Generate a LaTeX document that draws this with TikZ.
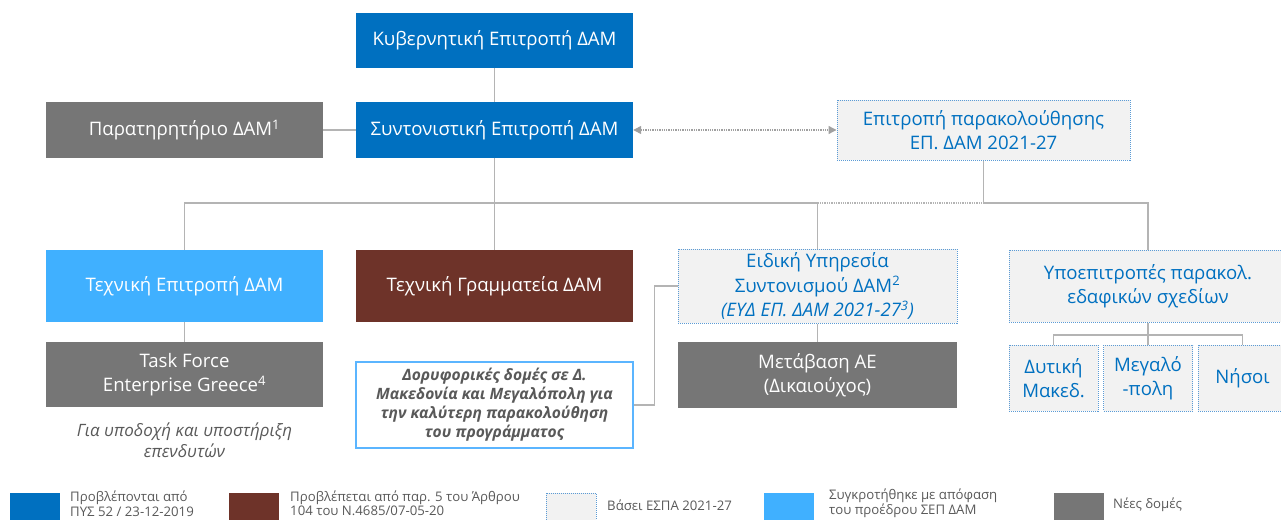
\documentclass[tikz,border=0pt]{standalone}
\usepackage{fontspec}
\setmainfont{Open Sans}
\usetikzlibrary{arrows.meta}
\definecolor{dblue}{RGB}{0,112,192}
\definecolor{lblue}{RGB}{64,176,255}
\definecolor{brown}{RGB}{110,51,41}
\definecolor{ngray}{RGB}{118,118,118}
\definecolor{lgray}{RGB}{242,242,242}
\definecolor{dotblue}{RGB}{91,155,213}
\definecolor{cgray}{RGB}{180,180,180}
\definecolor{agray}{RGB}{160,160,160}
\definecolor{tgray}{RGB}{89,89,89}
\definecolor{dborder}{RGB}{91,181,255}
\tikzset{
  box/.style={rectangle, inner sep=2pt, align=center, font=\fontsize{18.6}{24.5}\selectfont},
  solidbox/.style={box, text=white, draw=none},
  dotbox/.style={box, fill=lgray, draw=dotblue, densely dotted, line width=1pt, text=dblue},
  conn/.style={draw=cgray, line width=1.3pt},
  conndot/.style={draw=cgray, line width=1.3pt, densely dotted},
  biarrow/.style={draw=agray, line width=1.3pt, densely dotted, {Triangle[length=8pt,width=8pt]}-{Triangle[length=8pt,width=8pt]}},
  legsq/.style={rectangle, inner sep=0pt, minimum width=50pt, minimum height=32pt, draw=none},
  legtxt/.style={anchor=west, align=left, text=tgray, inner sep=0pt, font=\fontsize{13.2}{14.5}\selectfont},
}
\begin{document}
\begin{tikzpicture}[x=1pt,y=-1pt]
\useasboundingbox (0,0) rectangle (1281,519);
\clip (0,0) rectangle (1281,519);
% row 1-2
\node[solidbox, fill=dblue, minimum width=277pt, minimum height=55pt] (kyv) at (494.5,40.5) {Κυβερνητική Επιτροπή ΔΑΜ};
\node[solidbox, fill=dblue, minimum width=277pt, minimum height=56pt] (synt) at (494.5,130) {Συντονιστική Επιτροπή ΔΑΜ};
\node[solidbox, fill=ngray, minimum width=277pt, minimum height=56pt] (parat) at (184.5,130) {Παρατηρητήριο ΔΑΜ\textsuperscript{1}};
\node[dotbox, minimum width=293pt, minimum height=60pt] (epar) at (983.5,130) {Επιτροπή παρακολούθησης\\ΕΠ. ΔΑΜ 2021-27};
% row 3
\node[solidbox, fill=lblue, minimum width=277pt, minimum height=72pt] (tepit) at (184.5,286) {Τεχνική Επιτροπή ΔΑΜ};
\node[solidbox, fill=brown, minimum width=277pt, minimum height=72pt] (tgram) at (494.5,286) {Τεχνική Γραμματεία ΔΑΜ};
\node[dotbox, minimum width=279pt, minimum height=74pt] (eidiki) at (817.5,286) {Ειδική Υπηρεσία\\Συντονισμού ΔΑΜ\textsuperscript{2}\\\textit{(ΕΥΔ ΕΠ. ΔΑΜ 2021-27\textsuperscript{3})}};
\node[dotbox, minimum width=278pt, minimum height=72pt] (ypo) at (1148,286) {Υποεπιτροπές παρακολ.\\εδαφικών σχεδίων};
% row 4
\node[solidbox, fill=ngray, minimum width=277pt, minimum height=65pt] (taskf) at (184.5,374.5) {Task Force\\Enterprise Greece\textsuperscript{4}};
\node[box, draw=dborder, line width=1.2pt, fill=white, text=tgray, minimum width=277pt, minimum height=86pt, font=\fontsize{15.6}{19}\selectfont\bfseries\itshape] (dory) at (494.5,405) {Δορυφορικές δομές σε Δ.\\Μακεδονία και Μεγαλόπολη για\\την καλύτερη παρακολούθηση\\του προγράμματος};
\node[solidbox, fill=ngray, minimum width=279pt, minimum height=66pt] (metav) at (817.5,375) {Μετάβαση ΑΕ\\(Δικαιούχος)};
\node[dotbox, minimum width=89pt, minimum height=66pt] (dyt) at (1053.5,378) {Δυτική\\Μακεδ.};
\node[dotbox, minimum width=89pt, minimum height=66pt] (meg) at (1148,378) {Μεγαλό\\-πολη};
\node[dotbox, minimum width=89pt, minimum height=66pt] (nis) at (1242.5,378) {Νήσοι};
\node[align=center, text=tgray, font=\fontsize{17}{20.5}\selectfont\itshape] (capt) at (184.5,440) {Για υποδοχή και υποστήριξη\\επενδυτών};
% connectors
\coordinate (bus) at (494.5,203);
\coordinate (sbus) at (1148,335);
\draw[conn] (kyv) -- (synt);
\draw[conn] (parat) -- (synt);
\draw[biarrow] (synt.east) -- (epar.west);
\draw[conn] (synt) -- (tgram);
\draw[conn] (tepit.north) -- (tepit.north |- bus) -- (eidiki.north |- bus) -- (eidiki.north);
\draw[conndot] (eidiki.north |- bus) -- (epar.south |- bus);
\draw[conn] (epar.south) -- (epar.south |- bus) -- (ypo.north |- bus) -- (ypo.north);
\draw[conn] (tepit) -- (taskf);
\draw[conn] (eidiki) -- (metav);
\draw[conn] (eidiki.west) -- ++(-23,0) |- (dory.east);
\draw[conn] (ypo) -- (meg);
\draw[conn] (dyt.north) -- (dyt.north |- sbus) -- (nis.north |- sbus) -- (nis.north);
% legend
\node[legsq, fill=dblue] (l1) at (35,509) {};
\node[legtxt] (t1) at (70,503.5) {Προβλέπονται από\\ΠΥΣ 52 / 23-12-2019};
\node[legsq, fill=brown] (l2) at (254,509) {};
\node[legtxt] (t2) at (290,503.5) {Προβλέπεται από παρ. 5 του Άρθρου\\104 του Ν.4685/07-05-20};
\node[legsq, fill=lgray, draw=dotblue, densely dotted, line width=1pt] (l3) at (571,509) {};
\node[legtxt] (t3) at (607,505) {Βάσει ΕΣΠΑ 2021-27};
\node[legsq, fill=lblue] (l4) at (788.5,509) {};
\node[legtxt] (t4) at (829,503.5) {Συγκροτήθηκε με απόφαση\\του προέδρου ΣΕΠ ΔΑΜ};
\node[legsq, fill=ngray] (l5) at (1079,509) {};
\node[legtxt] (t5) at (1113,505) {Νέες δομές};
\end{tikzpicture}
\end{document}
